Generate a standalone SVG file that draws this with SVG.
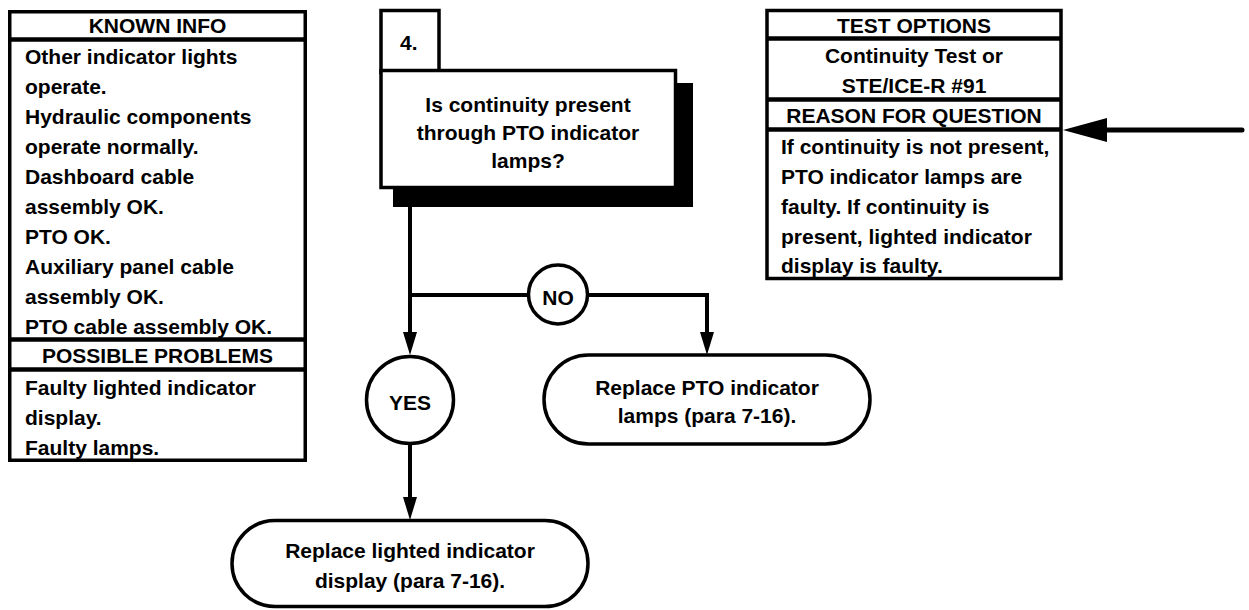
<svg xmlns="http://www.w3.org/2000/svg" width="1249" height="610" viewBox="0 0 1249 610">
<style>
.t{font-family:"Liberation Sans",Arial,sans-serif;font-weight:bold;font-size:21px;fill:#000}
.c{text-anchor:middle}
.b{fill:#fff;stroke:#000;stroke-width:3.5}
.d{stroke:#000;stroke-width:4.5;fill:none}
.ln{stroke:#000;stroke-width:4;fill:none}
</style>
<g id="known-info">
<rect class="b" x="9.75" y="11.75" width="295.5" height="448.5"/>
<line class="d" x1="9.75" y1="39.5" x2="305.25" y2="39.5"/>
<line class="d" x1="9.75" y1="339.5" x2="305.25" y2="339.5"/>
<line class="d" x1="9.75" y1="369.5" x2="305.25" y2="369.5"/>
<text class="t c" x="157.5" y="33">KNOWN INFO</text>
<text class="t" x="25" y="64">Other indicator lights</text>
<text class="t" x="25" y="94">operate.</text>
<text class="t" x="25" y="124">Hydraulic components</text>
<text class="t" x="25" y="154">operate normally.</text>
<text class="t" x="25" y="184">Dashboard cable</text>
<text class="t" x="25" y="214">assembly OK.</text>
<text class="t" x="25" y="244">PTO OK.</text>
<text class="t" x="25" y="274">Auxiliary panel cable</text>
<text class="t" x="25" y="304">assembly OK.</text>
<text class="t" x="25" y="334">PTO cable assembly OK.</text>
<text class="t c" x="157.5" y="363">POSSIBLE PROBLEMS</text>
<text class="t" x="25" y="395">Faulty lighted indicator</text>
<text class="t" x="25" y="425">display.</text>
<text class="t" x="25" y="455">Faulty lamps.</text>
</g>
<g id="test-options">
<rect class="b" x="767" y="10.5" width="294" height="268"/>
<line class="d" x1="767" y1="38.5" x2="1061" y2="38.5"/>
<line class="d" x1="767" y1="99.5" x2="1061" y2="99.5"/>
<line class="d" x1="767" y1="129.5" x2="1061" y2="129.5"/>
<text class="t c" x="914" y="33">TEST OPTIONS</text>
<text class="t c" x="914" y="63">Continuity Test or</text>
<text class="t c" x="914" y="93">STE/ICE-R #91</text>
<text class="t c" x="914" y="123">REASON FOR QUESTION</text>
<text class="t" x="781" y="154">If continuity is not present,</text>
<text class="t" x="781" y="184">PTO indicator lamps are</text>
<text class="t" x="781" y="214">faulty. If continuity is</text>
<text class="t" x="781" y="244">present, lighted indicator</text>
<text class="t" x="781" y="273">display is faulty.</text>
</g>
<g id="step4">
<rect x="393" y="83" width="300" height="124" fill="#000"/>
<rect class="b" x="381" y="10.5" width="58" height="62"/>
<rect class="b" x="381" y="70.5" width="294.5" height="117"/>
<text class="t" x="400" y="50">4.</text>
<text class="t c" x="528" y="112">Is continuity present</text>
<text class="t c" x="528" y="140">through PTO indicator</text>
<text class="t c" x="528" y="168">lamps?</text>
</g>
<g id="connectors">
<path class="ln" d="M410 207 V335"/>
<path class="ln" d="M410 295 H529"/>
<path class="ln" d="M587 295 H707 V335"/>
<path class="ln" d="M410 444 V500"/>
<polygon points="403,332 417,332 410,355" fill="#000"/>
<polygon points="700,332 714,332 707,355" fill="#000"/>
<polygon points="403,497 417,497 410,520" fill="#000"/>
<path d="M1242 130 H1100" stroke="#000" stroke-width="5" stroke-linecap="round" fill="none"/>
<polygon points="1063,130 1107,118 1107,142" fill="#000"/>
</g>
<g id="no">
<circle class="b" cx="558" cy="294.5" r="29.5"/>
<text class="t c" x="558" y="305">NO</text>
</g>
<g id="yes">
<circle class="b" cx="410" cy="400" r="43.5"/>
<text class="t c" x="410" y="410">YES</text>
</g>
<g id="replace-lamps">
<rect class="b" x="544" y="355" width="326" height="89" rx="44.5"/>
<text class="t c" x="707" y="395">Replace PTO indicator</text>
<text class="t c" x="707" y="423">lamps (para 7-16).</text>
</g>
<g id="replace-display">
<rect class="b" x="232" y="520.5" width="356" height="86" rx="43"/>
<text class="t c" x="410" y="558">Replace lighted indicator</text>
<text class="t c" x="410" y="588">display (para 7-16).</text>
</g>
</svg>
